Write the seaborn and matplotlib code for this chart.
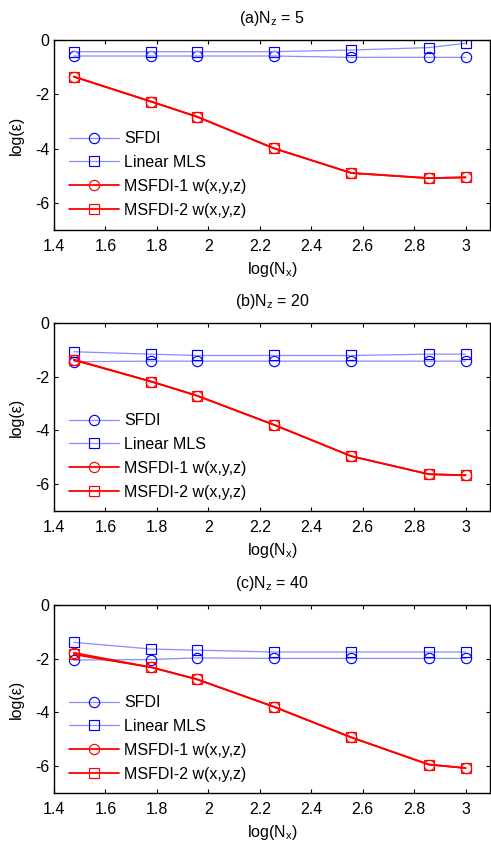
import numpy as np
import pandas as pd
import matplotlib
matplotlib.use("Agg")
import matplotlib.pyplot as plt
import seaborn as sns

sns.set_style("ticks")
plt.rcParams["font.family"] = ["Liberation Sans", "DejaVu Sans"]
plt.rcParams["mathtext.fontset"] = "custom"
plt.rcParams["mathtext.rm"] = "Liberation Sans"
plt.rcParams["mathtext.it"] = "Liberation Sans"
plt.rcParams["mathtext.default"] = "regular"
plt.rcParams["axes.unicode_minus"] = False
plt.rcParams["text.color"] = "black"
plt.rcParams["axes.labelcolor"] = "black"
plt.rcParams["axes.titlecolor"] = "black"

# log10 of the grid sizes Nx = 30, 60, 90, 180, 360, 720, 1000
log_nx = [1.477, 1.778, 1.954, 2.255, 2.556, 2.857, 3.000]

titles = ["(a)N$_z$ = 5", "(b)N$_z$ = 20", "(c)N$_z$ = 40"]
series_names = ["SFDI", "Linear MLS", "MSFDI-1 w(x,y,z)", "MSFDI-2 w(x,y,z)"]

# log error, Nz = 5
sfdi_5 = [-0.59, -0.59, -0.59, -0.59, -0.64, -0.64, -0.64]
mls_5 = [-0.43, -0.43, -0.43, -0.43, -0.37, -0.28, -0.12]
msfdi1_5 = [-1.35, -2.27, -2.82, -3.99, -4.90, -5.09, -5.06]
msfdi2_5 = [-1.35, -2.27, -2.82, -3.99, -4.90, -5.09, -5.06]

# log error, Nz = 20
sfdi_20 = [-1.44, -1.42, -1.42, -1.42, -1.42, -1.42, -1.42]
mls_20 = [-1.07, -1.16, -1.21, -1.21, -1.21, -1.16, -1.16]
msfdi1_20 = [-1.38, -2.18, -2.70, -3.79, -4.96, -5.63, -5.67]
msfdi2_20 = [-1.36, -2.18, -2.70, -3.79, -4.96, -5.63, -5.67]

# log error, Nz = 40
sfdi_40 = [-2.05, -2.03, -1.97, -1.99, -1.99, -1.99, -1.99]
mls_40 = [-1.39, -1.64, -1.68, -1.75, -1.75, -1.75, -1.75]
msfdi1_40 = [-1.78, -2.32, -2.76, -3.79, -4.93, -5.94, -6.07]
msfdi2_40 = [-1.84, -2.32, -2.76, -3.79, -4.93, -5.94, -6.07]

panels = [
    (sfdi_5, mls_5, msfdi1_5, msfdi2_5),
    (sfdi_20, mls_20, msfdi1_20, msfdi2_20),
    (sfdi_40, mls_40, msfdi1_40, msfdi2_40),
]

x_ticks = [1.4, 1.6, 1.8, 2.0, 2.2, 2.4, 2.6, 2.8, 3.0]
x_tick_labels = ["1.4", "1.6", "1.8", "2", "2.2", "2.4", "2.6", "2.8", "3"]
y_ticks = [0, -2, -4, -6]
y_tick_labels = ["0", "-2", "-4", "-6"]

styles = [
    dict(color="#8c8cff", marker="o", markeredgecolor="#0000ff", linewidth=0.9),
    dict(color="#8c8cff", marker="s", markeredgecolor="#0000ff", linewidth=0.9),
    dict(color="#ff0000", marker="o", markeredgecolor="#ff0000", linewidth=1.3),
    dict(color="#ff0000", marker="s", markeredgecolor="#ff0000", linewidth=1.3),
]

FS = 11.5

fig = plt.figure(figsize=(4.91, 8.46), dpi=100)
W, H = 491.0, 846.0
boxes = [(40, 230), (323, 511), (605, 793)]
left_px, right_px = 54, 490

for (top, bottom), title, values in zip(boxes, titles, panels):
    ax = fig.add_axes([left_px / W, 1 - bottom / H,
                       (right_px - left_px) / W, (bottom - top) / H])
    for name, vals, st in zip(series_names, values, styles):
        df = pd.DataFrame({"x": log_nx, "y": vals})
        sns.lineplot(data=df, x="x", y="y", ax=ax, label=name,
                     color=st["color"], linewidth=st["linewidth"],
                     marker=st["marker"], markersize=7.4,
                     markerfacecolor="none",
                     markeredgecolor=st["markeredgecolor"],
                     markeredgewidth=0.85)
    ax.set_xlim(1.4, 3.095)
    ax.set_ylim(-7, 0)
    ax.set_xticks(x_ticks)
    ax.set_xticklabels(x_tick_labels)
    ax.set_yticks(y_ticks)
    ax.set_yticklabels(y_tick_labels)
    ax.tick_params(direction="in", length=3, width=0.8, top=True, right=True,
                   labelsize=FS, colors="black")
    ax.tick_params(axis="x", pad=6.5)
    ax.tick_params(axis="y", pad=3.5)
    for sp in ax.spines.values():
        sp.set_visible(True)
        sp.set_linewidth(1.0)
        sp.set_color("black")
    ax.set_xlabel("log(N$_x$)", fontsize=FS, labelpad=4, color="black")
    ax.set_ylabel("log(ε)", fontsize=FS, labelpad=8, color="black")
    ax.set_title(title, fontsize=FS, pad=12.5, color="black")
    leg = ax.legend(loc="upper left", bbox_to_anchor=(0.035, 0.52),
                    frameon=False, fontsize=FS, handlelength=3.1,
                    handletextpad=0.35, labelspacing=0.55,
                    borderpad=0, borderaxespad=0)
    for txt in leg.get_texts():
        txt.set_color("black")

fig.savefig("out.png", dpi=100)
